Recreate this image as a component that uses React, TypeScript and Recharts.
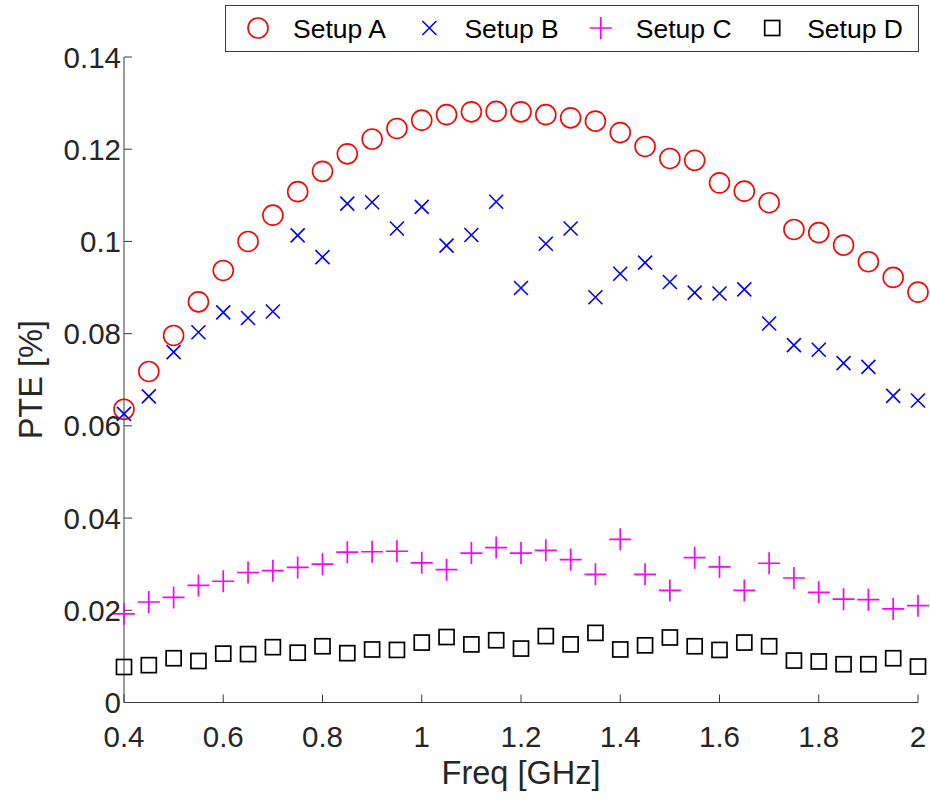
import React from "react";
import { ScatterChart, Scatter, XAxis, YAxis, Legend } from "recharts";

const freq = [
  0.4, 0.45, 0.5, 0.55, 0.6, 0.65, 0.7, 0.75, 0.8, 0.85, 0.9, 0.95, 1.0, 1.05,
  1.1, 1.15, 1.2, 1.25, 1.3, 1.35, 1.4, 1.45, 1.5, 1.55, 1.6, 1.65, 1.7, 1.75,
  1.8, 1.85, 1.9, 1.95, 2.0,
];

const setupA = [
  0.0636, 0.0718, 0.0796, 0.0869, 0.0937, 0.1, 0.1057, 0.1108, 0.1152, 0.119,
  0.1222, 0.1245, 0.1263, 0.1275, 0.1281, 0.1282, 0.1281, 0.1275, 0.1268,
  0.1261, 0.1236, 0.1206, 0.118, 0.1176, 0.1127, 0.1109, 0.1084, 0.1026,
  0.1019, 0.0992, 0.0956, 0.0922, 0.089,
];

const setupB = [
  0.0626, 0.0664, 0.076, 0.0803, 0.0846, 0.0834, 0.0848, 0.1013, 0.0966,
  0.1082, 0.1085, 0.1028, 0.1075, 0.0991, 0.1014, 0.1086, 0.0899, 0.0995,
  0.1028, 0.0879, 0.093, 0.0954, 0.0912, 0.0889, 0.0887, 0.0896, 0.0822,
  0.0775, 0.0765, 0.0736, 0.0728, 0.0665, 0.0655,
];

const setupC = [
  0.0192, 0.0218, 0.0228, 0.0254, 0.0263, 0.0282, 0.0286, 0.0293, 0.03,
  0.0326, 0.0327, 0.0328, 0.0303, 0.0288, 0.0324, 0.0336, 0.0324, 0.033,
  0.031, 0.0278, 0.0354, 0.0278, 0.0243, 0.0314, 0.0294, 0.0243, 0.0302,
  0.027, 0.0239, 0.0224, 0.0223, 0.0203, 0.021,
];

const setupD = [
  0.0077, 0.0081, 0.0096, 0.009, 0.0106, 0.0105, 0.012, 0.0108, 0.0122,
  0.0107, 0.0115, 0.0114, 0.013, 0.0142, 0.0126, 0.0135, 0.0117, 0.0144,
  0.0126, 0.0151, 0.0115, 0.0124, 0.0141, 0.0122, 0.0114, 0.013, 0.0122,
  0.0091, 0.0089, 0.0083, 0.0083, 0.0096, 0.0078,
];

const xTicks = [0.4, 0.6, 0.8, 1, 1.2, 1.4, 1.6, 1.8, 2];
const yTicks = [0, 0.02, 0.04, 0.06, 0.08, 0.1, 0.12, 0.14];

const seriesNames = ["Setup A", "Setup B", "Setup C", "Setup D"];

const FONT = '"Liberation Sans", Arial, Helvetica, sans-serif';
const AXIS = "#3a3a3a";
const TEXT = "#262626";
const TICK = 8;

type Kind = "circle" | "cross" | "plus" | "square";

const kinds: Kind[] = ["circle", "cross", "plus", "square"];
const colors = ["#ff0000", "#0000ff", "#ff00ff", "#000000"];

function Marker({ kind, cx, cy }: { kind: Kind; cx: number; cy: number }) {
  if (kind === "circle")
    return <circle cx={cx} cy={cy} r={10} fill="none" stroke="#ff0000" strokeWidth={1.6} />;
  if (kind === "cross") {
    const s = 7;
    return (
      <path
        d={`M${cx - s},${cy - s}L${cx + s},${cy + s}M${cx - s},${cy + s}L${cx + s},${cy - s}`}
        stroke="#0000ff"
        strokeWidth={1.6}
        fill="none"
      />
    );
  }
  if (kind === "plus") {
    const s = 11;
    return (
      <path
        d={`M${cx - s},${cy}L${cx + s},${cy}M${cx},${cy - s}L${cx},${cy + s}`}
        stroke="#ff00ff"
        strokeWidth={1.7}
        fill="none"
      />
    );
  }
  return (
    <rect x={cx - 7.5} y={cy - 7.5} width={15} height={15} fill="none" stroke="#000" strokeWidth={1.7} />
  );
}

const toPoints = (vals: number[]) => freq.map((f, i) => ({ x: f, y: vals[i] }));

const seriesData = [setupA, setupB, setupC, setupD].map(toPoints);

const fmt = (v: number) => String(Number(v.toFixed(2)));

const LeftTick = (props: any) => {
  const { x, y, payload } = props;
  return (
    <g>
      <line x1={x} y1={y} x2={x + TICK} y2={y} stroke={AXIS} strokeWidth={1} />
      <text x={x - 3} y={y} dy={10.5} textAnchor="end" fontSize={29.5} fill={TEXT} fontFamily={FONT}>
        {fmt(payload.value)}
      </text>
    </g>
  );
};

const RightTick = (props: any) => {
  const { x, y } = props;
  return <line x1={x} y1={y} x2={x - TICK} y2={y} stroke={AXIS} strokeWidth={1} />;
};

const BottomTick = (props: any) => {
  const { x, y, payload } = props;
  return (
    <g>
      <line x1={x} y1={y} x2={x} y2={y - TICK} stroke={AXIS} strokeWidth={1} />
      <text x={x} y={y + 44} textAnchor="middle" fontSize={29.5} fill={TEXT} fontFamily={FONT}>
        {fmt(payload.value)}
      </text>
    </g>
  );
};

const TopTick = (props: any) => {
  const { x, y } = props;
  return <line x1={x} y1={y} x2={x} y2={y + TICK} stroke={AXIS} strokeWidth={1} />;
};

const renderLegend = () => (
  <svg width={694} height={47} style={{ display: "block" }}>
    <rect x={0.5} y={0.5} width={693} height={46} fill="#fff" stroke={AXIS} strokeWidth={1} />
    {seriesNames.map((name, i) => {
      const mx = 33 + i * 171.4;
      return (
        <g key={name}>
          <Marker kind={kinds[i]} cx={mx} cy={23} />
          <text x={mx + 35} y={33} fontSize={26.5} fill="#000" fontFamily={FONT}>
            {name}
          </text>
        </g>
      );
    })}
  </svg>
);

export default function App() {
  return (
    <div style={{ position: "absolute", left: 0, top: 0, background: "#fff" }}>
      <ScatterChart
        width={930}
        height={806}
        margin={{ top: 57, right: 12, bottom: 0, left: 0 }}
      >
        <XAxis
          xAxisId="b"
          dataKey="x"
          type="number"
          domain={[0.4, 2]}
          ticks={xTicks}
          orientation="bottom"
          height={103.5}
          tickSize={0}
          tickMargin={0}
          tickLine={false}
          axisLine={{ stroke: AXIS, strokeWidth: 1 }}
          tick={<BottomTick />}
          interval={0}
          label={{
            content: (p: any) => {
              const vb = p.viewBox;
              return (
                <text
                  x={vb.x + vb.width / 2}
                  y={vb.y + 81.5}
                  textAnchor="middle"
                  fontSize={32.5}
                  fill={TEXT}
                  fontFamily={FONT}
                >
                  Freq [GHz]
                </text>
              );
            },
          }}
        />
        <XAxis
          xAxisId="t"
          type="number"
          domain={[0.4, 2]}
          ticks={xTicks}
          orientation="top"
          height={0}
          tickSize={0}
          tickMargin={0}
          tickLine={false}
          axisLine={{ stroke: AXIS, strokeWidth: 1 }}
          tick={<TopTick />}
          interval={0}
        />
        <YAxis
          yAxisId="l"
          dataKey="y"
          type="number"
          domain={[0, 0.14]}
          ticks={yTicks}
          width={124}
          tickSize={0}
          tickMargin={0}
          tickLine={false}
          axisLine={{ stroke: AXIS, strokeWidth: 1 }}
          tick={<LeftTick />}
          interval={0}
          label={{
            content: (p: any) => {
              const vb = p.viewBox;
              const cx = vb.x + 30;
              const cy = vb.y + vb.height / 2;
              return (
                <text
                  x={cx}
                  y={cy}
                  dy={11.5}
                  textAnchor="middle"
                  transform={`rotate(-90 ${cx} ${cy})`}
                  fontSize={32.5}
                  fill={TEXT}
                  fontFamily={FONT}
                >
                  PTE [%]
                </text>
              );
            },
          }}
        />
        <YAxis
          yAxisId="r"
          type="number"
          domain={[0, 0.14]}
          ticks={yTicks}
          orientation="right"
          width={0}
          tickSize={0}
          tickMargin={0}
          tickLine={false}
          axisLine={{ stroke: AXIS, strokeWidth: 1 }}
          tick={<RightTick />}
          interval={0}
        />
        {seriesNames.map((name, i) => (
          <Scatter
            key={name}
            name={name}
            data={seriesData[i]}
            xAxisId="b"
            yAxisId="l"
            fill={colors[i]}
            isAnimationActive={false}
            shape={(p: any) => <Marker kind={kinds[i]} cx={p.cx} cy={p.cy} />}
          />
        ))}
        <Legend
          layout="horizontal"
          verticalAlign="middle"
          align="center"
          content={renderLegend}
          wrapperStyle={{ position: "absolute", left: 225, top: 5, width: 694, height: 47 }}
        />
      </ScatterChart>
    </div>
  );
}
